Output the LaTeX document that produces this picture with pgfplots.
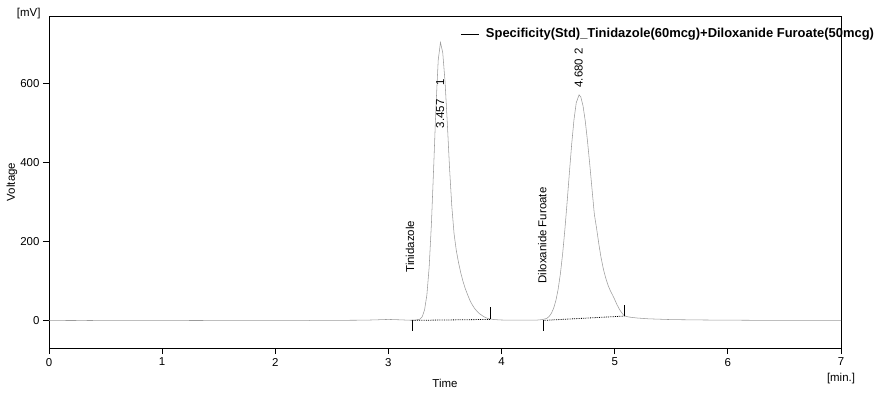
\documentclass[border=0pt]{standalone}
\usepackage{pgfplots}
\pgfplotsset{compat=1.18}
\usepackage{fontspec}
\setmainfont{Liberation Sans}
\definecolor{trace}{RGB}{155,155,155}
\begin{document}
\begin{tikzpicture}
\begin{axis}[
  name=ax,
  scale only axis,
  width=792bp, height=332bp,
  xmin=0, xmax=7, ymin=-70, ymax=772,
  xtick={0,1,2,3,4,5,6,7},
  ytick={0,200,400,600},
  tick pos=left,
  tick align=outside,
  major tick length=6bp,
  axis line style={black, line width=0.8pt},
  every tick/.style={black, line width=0.8pt},
  /pgf/number format/assume math mode=true,
  ticklabel style={font=\fontsize{11.5}{13}\selectfont},
  xticklabel style={yshift=-0.5bp},
  ylabel={Voltage},
  ylabel style={at={(rel axis cs:-0.0467,0.5)}, anchor=center, font=\fontsize{11.5}{13}\selectfont},
  xlabel={Time},
  xlabel style={at={(rel axis cs:0.5,0)}, anchor=center, yshift=-35bp, font=\fontsize{11.5}{13}\selectfont},
  legend style={at={(rel axis cs:0.5195,0.946)}, anchor=west, draw=none, fill=none, inner sep=0pt,
    font=\bfseries\fontsize{13}{15}\selectfont},
  legend cell align=left,
  clip=false,
]
\addplot[trace, line width=0.55pt, legend image code/.code={\draw[black, line width=0.7pt] (0bp,0bp) -- (18bp,0bp); \path[draw=none] (0bp,0bp) -- (23bp,0bp);}] coordinates {
(0,0)(0.3,-0.4)(0.6,0.3)(1,0.2)(1.3,-0.3)(1.6,0.2)(2,0.3)(2.3,-0.2)(2.6,0.2)(2.8,0.6)(2.9,1.5)(3.0,2.5)(3.1,1.5)(3.2,0.3)(3.24,0.8)
(3.28,3.3)(3.30,10)(3.32,27.6)(3.34,65)(3.36,135)(3.38,245)(3.40,389)(3.42,541)(3.44,660)(3.46,705)
(3.48,679)(3.50,607)(3.52,503)(3.54,387)(3.56,290)(3.58,220)(3.60,177)(3.62,146)(3.64,120)(3.66,98)(3.68,80)
(3.70,65)(3.72,51)(3.74,40)(3.76,31)(3.78,24)(3.80,18)(3.82,14)(3.84,10)(3.86,7)(3.88,5)(3.90,3.5)(3.94,2)
(4.00,1)(4.10,0.5)(4.30,0.5)(4.36,2)(4.40,5.2)
(4.42,9.9)(4.44,17.8)(4.46,30.7)(4.48,50.4)(4.50,79)(4.52,118.6)(4.54,169.7)(4.56,232)(4.58,302.5)(4.60,376.6)
(4.62,448)(4.64,509)(4.66,552)(4.685,572)(4.70,567)(4.72,544)(4.74,505)(4.76,453)(4.78,394)(4.80,331)(4.82,269)
(4.84,233)(4.86,193)(4.88,158)(4.90,130)(4.92,108)(4.94,90)(4.96,76)(4.98,65)(5.00,53)(5.02,40)(5.04,29)(5.06,20)
(5.08,13)(5.10,10)(5.14,8)(5.20,6)(5.30,4)(5.50,2)(5.80,1)(6.20,0.3)(6.60,0.2)(7,0)
};
\addlegendentry{Specificity(Std)\_Tinidazole(60mcg)+Diloxanide Furoate(50mcg)}
% integration markers
\addplot[black, line width=0.6pt, forget plot] coordinates {(3.207,0)(3.207,-28)};
\addplot[black, line width=0.8pt, densely dotted, forget plot] coordinates {(3.207,0)(3.899,2.5)};
\addplot[black, line width=0.6pt, forget plot] coordinates {(3.899,2.5)(3.899,34)};
\addplot[black, line width=0.6pt, forget plot] coordinates {(4.371,0)(4.371,-28)};
\addplot[black, line width=0.8pt, densely dotted, forget plot] coordinates {(4.371,0)(5.087,11)};
\addplot[black, line width=0.6pt, forget plot] coordinates {(5.087,11)(5.087,40)};
% annotations
\node[rotate=90, font=\fontsize{11.5}{13}\selectfont] at (axis cs:3.457,524) {3.457};
\node[rotate=90, font=\fontsize{11.5}{13}\selectfont] at (axis cs:3.457,604) {1};
\node[rotate=90, font=\fontsize{11.5}{13}\selectfont] at (axis cs:4.682,627) {4.680};
\node[rotate=90, font=\fontsize{11.5}{13}\selectfont] at (axis cs:4.682,683) {2};
\node[rotate=90, font=\fontsize{11.5}{13}\selectfont] at (axis cs:3.19,187) {Tinidazole};
\node[rotate=90, font=\fontsize{11.5}{13}\selectfont] at (axis cs:4.36,215) {Diloxanide Furoate};
\node[anchor=east, font=\fontsize{11.5}{13}\selectfont] at ([shift={(-5bp,2bp)}]rel axis cs:0,1) {[mV]};
\node[anchor=center, font=\fontsize{11.5}{13}\selectfont] at ([shift={(0bp,-31bp)}]rel axis cs:1,0) {[min.]};
\end{axis}
\pgfresetboundingbox
\path ([shift={(-49bp,-46bp)}]ax.south west) rectangle ([shift={(39bp,16bp)}]ax.north east);
\end{tikzpicture}
\end{document}
